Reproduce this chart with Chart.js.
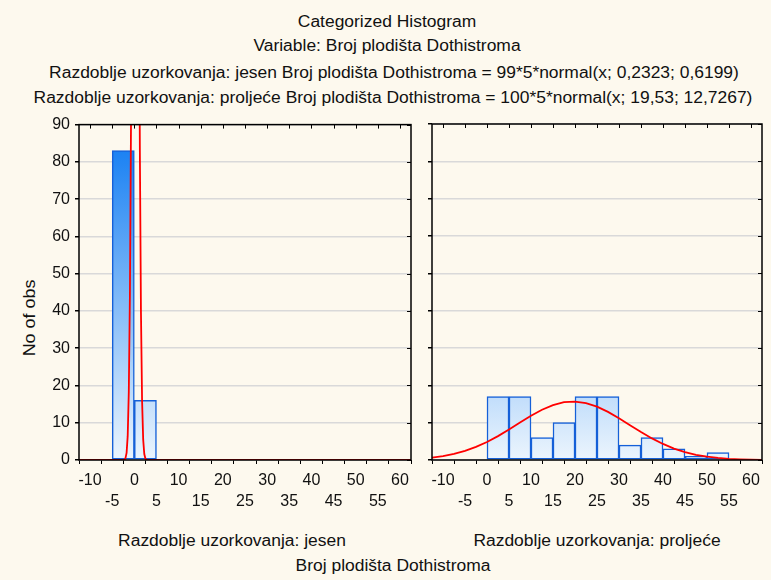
<!DOCTYPE html>
<html>
<head>
<meta charset="utf-8">
<script src="https://cdn.jsdelivr.net/npm/chart.js@4.4.1/dist/chart.umd.min.js"></script>
<style>
  body { margin: 0; background: #fdf9ee; }
  #page { position: relative; width: 771px; height: 580px; overflow: hidden; background: #fdf9ee;
          font-family: "Liberation Sans", Arial, sans-serif; color: #111; }
  .txt { position: absolute; white-space: nowrap; font-size: 16px; line-height: 20px; transform: translateX(-50%) scaleX(1.09); }
  canvas { position: absolute; }
</style>
</head>
<body>
<div id="page">
  <div class="txt" style="left:387px; top:12px;">Categorized Histogram</div>
  <div class="txt" style="left:387px; top:36px;">Variable: Broj plodišta Dothistroma</div>
  <div class="txt" style="left:394px; top:63px;">Razdoblje uzorkovanja: jesen Broj plodišta Dothistroma = 99*5*normal(x; 0,2323; 0,6199)</div>
  <div class="txt" style="left:393px; top:88px;">Razdoblje uzorkovanja: proljeće Broj plodišta Dothistroma = 100*5*normal(x; 19,53; 12,7267)</div>
  <div class="txt" style="left:232px; top:531px;">Razdoblje uzorkovanja: jesen</div>
  <div class="txt" style="left:597px; top:531px;">Razdoblje uzorkovanja: proljeće</div>
  <div class="txt" style="left:393px; top:556px;">Broj plodišta Dothistroma</div>
  <div class="txt" style="left:30px; top:308px; transform: translateX(-50%) rotate(-90deg) scaleX(1.12);">No of obs</div>
  <canvas id="left" width="420" height="400" style="left:0; top:110px;"></canvas>
  <canvas id="right" width="351" height="400" style="left:420px; top:110px;"></canvas>
</div>
<script>
// Podaci - histogram (sredine razreda širine 5)
const jesenBins = [-2.5, 2.5];
const jesenCounts = [83, 16];
const proljeceBins = [2.5, 7.5, 12.5, 17.5, 22.5, 27.5, 32.5, 37.5, 42.5, 47.5, 52.5];
const proljeceCounts = [17, 17, 6, 10, 17, 17, 4, 6, 3, 1, 2];

// Krivulje normalne razdiobe (očitane vrijednosti)
const jesenCurveX = [-12.5, -3, -2.5, -2.25, -2, -1.75, -1.5, -1.25, -1, -0.75, -0.5, -0.25, 0, 0.25, 0.5, 0.75, 1, 1.25, 1.5, 1.75, 2, 2.25, 2.5, 2.75, 3, 3.5, 62.5];
const jesenCurveY = [0, 0.002, 0.02, 0.1, 0.49, 1.92, 6.4, 18.3, 44.2, 90.7, 158.6, 235.4, 297, 318.5, 290.3, 224.8, 148, 82.8, 39.4, 15.9, 5.46, 1.59, 0.4, 0.08, 0.015, 0, 0];
const proljeceCurveX = [-12.5, -10, -7.5, -5, -2.5, 0, 2.5, 5, 7.5, 10, 12.5, 15, 17.5, 20, 22.5, 25, 27.5, 30, 32.5, 35, 37.5, 40, 42.5, 45, 47.5, 50, 52.5, 55, 57.5, 60, 62.5];
const proljeceCurveY = [0.66, 1.06, 1.64, 2.45, 3.5, 4.83, 6.4, 8.17, 10.03, 11.84, 13.46, 14.71, 15.48, 15.66, 15.25, 14.29, 12.88, 11.17, 9.33, 7.49, 5.78, 4.3, 3.07, 2.12, 1.4, 0.89, 0.55, 0.32, 0.18, 0.1, 0.05];

// Oznake osi
const xTicks = [-10, -5, 0, 5, 10, 15, 20, 25, 30, 35, 40, 45, 50, 55, 60];
const yTicks = [0, 10, 20, 30, 40, 50, 60, 70, 80, 90];

const xTickFont = { family: '"Liberation Sans", Arial, sans-serif', size: 16, lineHeight: 1.3 };
const yTickFont = { family: '"Liberation Sans", Arial, sans-serif', size: 16 };

// Gradijent stupaca preko cijelog područja grafa
function barGradient(context) {
    const area = context.chart.chartArea;
    if (!area) return '#c8e2fb';
    const g = context.chart.ctx.createLinearGradient(0, area.top, 0, area.bottom);
    g.addColorStop(0, '#0a78f2');
    g.addColorStop(1, '#ecf5fd');
    return g;
}

// Okvir grafa i kratke oznake gore/desno
const frame = {
    id: 'frame',
    afterDatasetsDraw(chart) {
        const { ctx, chartArea: a, scales } = chart;
        ctx.save();
        ctx.strokeStyle = '#000';
        ctx.lineWidth = 1.5;
        ctx.strokeRect(a.left, a.top, a.right - a.left, a.bottom - a.top);
        ctx.lineWidth = 1;
        ctx.beginPath();
        xTicks.forEach(v => {
            const px = Math.round(scales.x.getPixelForValue(v)) + 0.5;
            ctx.moveTo(px, a.top); ctx.lineTo(px, a.top + 4);
        });
        yTicks.forEach(v => {
            const py = Math.round(scales.y.getPixelForValue(v)) + 0.5;
            ctx.moveTo(a.right, py); ctx.lineTo(a.right - 4, py);
        });
        ctx.stroke();
        ctx.restore();
    }
};

function makeChart(id, bins, counts, curveX, curveY, showY, yWidth) {
    const ctx = document.getElementById(id).getContext('2d');
    return new Chart(ctx, {
        type: 'bar',
        data: {
            datasets: [
                {
                    type: 'line',
                    data: curveX.map((x, i) => ({ x: x, y: curveY[i] })),
                    borderColor: '#ff0000',
                    borderWidth: 1.8,
                    pointRadius: 0,
                    tension: 0,
                    order: 0,
                },
                {
                    type: 'bar',
                    data: bins.map((x, i) => ({ x: x, y: counts[i] })),
                    backgroundColor: barGradient,
                    borderColor: '#1560d8',
                    borderWidth: 1.5,
                    borderSkipped: false,
                    barPercentage: 1,
                    categoryPercentage: 1,
                    order: 1,
                },
            ],
        },
        options: {
            responsive: false,
            animation: false,
            layout: { padding: { top: 14, right: 9, left: 0, bottom: 0 } },
            plugins: { legend: { display: false }, tooltip: { enabled: false } },
            scales: {
                x: {
                    type: 'linear',
                    min: -12.5,
                    max: 62.5,
                    offset: false,
                    afterBuildTicks: axis => { axis.ticks = xTicks.map(v => ({ value: v })); },
                    afterFit: axis => { axis.height = 50; },
                    grid: { drawOnChartArea: false, drawTicks: true, tickLength: 4, tickColor: '#000' },
                    border: { display: false },
                    ticks: {
                        color: '#111',
                        font: xTickFont,
                        padding: 6,
                        maxRotation: 0,
                        autoSkip: false,
                        callback: v => (v % 10 === 0 ? String(v) : ['', String(v)]),
                    },
                },
                y: {
                    min: 0,
                    max: 90,
                    afterBuildTicks: axis => { axis.ticks = yTicks.map(v => ({ value: v })); },
                    afterFit: axis => { axis.width = yWidth; },
                    grid: { color: '#d9d9d9', lineWidth: 1.5, tickLength: 4, tickColor: '#000' },
                    border: { display: false },
                    ticks: { display: showY, color: '#111', font: yTickFont, padding: 5 },
                },
            },
        },
        plugins: [frame],
    });
}

makeChart('left', jesenBins, jesenCounts, jesenCurveX, jesenCurveY, true, 79);
makeChart('right', proljeceBins, proljeceCounts, proljeceCurveX, proljeceCurveY, false, 12);
</script>
</body>
</html>
